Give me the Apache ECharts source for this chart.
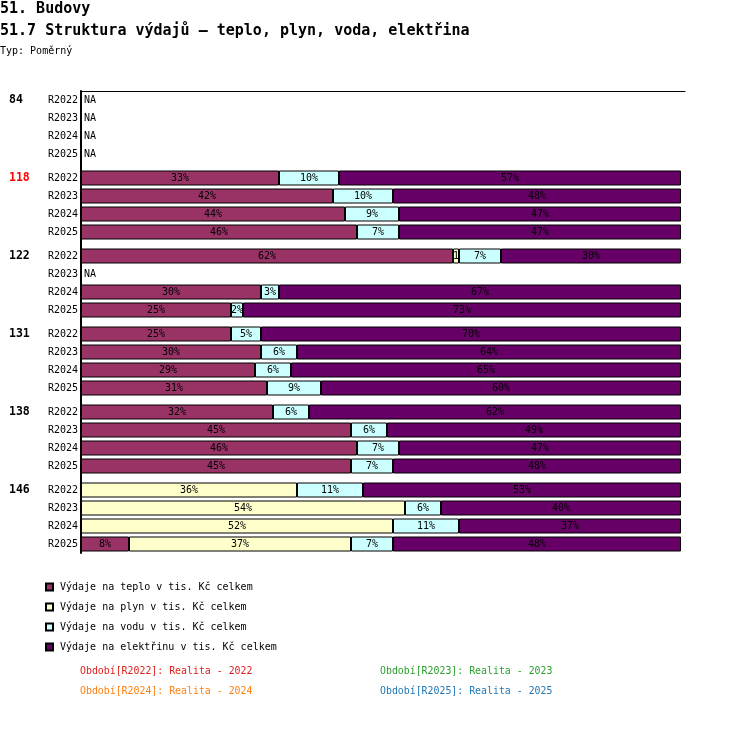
<!DOCTYPE html>
<html>
<head>
<meta charset="utf-8">
<script src="https://cdn.jsdelivr.net/npm/echarts@6/dist/echarts.min.js"></script>
<style>html,body{margin:0;padding:0;background:#fff}#c{width:750px;height:750px}</style>
</head>
<body>
<div id="c"></div>
<script>
const groups = ['84', '118', '122', '131', '138', '146'];
const highlightGroup = '118';
const periods = ['R2022', 'R2023', 'R2024', 'R2025'];
const seriesNames = ['Výdaje na teplo v tis. Kč celkem', 'Výdaje na plyn v tis. Kč celkem', 'Výdaje na vodu v tis. Kč celkem', 'Výdaje na elektřinu v tis. Kč celkem'];
// rows: group-major, period-minor (null = no value)
const teplo =     [null,null,null,null, 33,42,44,46, 62,null,30,25, 25,30,29,31, 32,45,46,45, null,null,null,8];
const plyn =      [null,null,null,null, null,null,null,null, 1,null,null,null, null,null,null,null, null,null,null,null, 36,54,52,37];
const voda =      [null,null,null,null, 10,10,9,7, 7,null,3,2, 5,6,6,9, 6,6,7,7, 11,6,11,7];
const elektrina = [null,null,null,null, 57,48,47,47, 30,null,67,73, 70,64,65,60, 62,49,47,48, 53,40,37,48];
const periodLegend = ['Období[R2022]: Realita - 2022', 'Období[R2023]: Realita - 2023', 'Období[R2024]: Realita - 2024', 'Období[R2025]: Realita - 2025'];

const colors = ['#993366', '#FFFFCC', '#CCFFFF', '#660066'];
const periodColors = ['#e0201c', '#2ca02c', '#ff7f0e', '#1f77b4'];
const MONO = '"DejaVu Sans Mono", monospace';

// slot layout: each group = 13 slots of 6px, rows every 3 slots
const SLOTS_PER_GROUP = 13, ROW_SLOTS = 3, OFFSET = 1, TOTAL = 77;
const rowSlot = (g, i) => g * SLOTS_PER_GROUP + i * ROW_SLOTS + OFFSET;
const periodCats = new Array(TOTAL).fill('');
const groupCats = new Array(TOTAL).fill('');
groups.forEach((gname, g) => periods.forEach((p, i) => {
  const k = rowSlot(g, i);
  periodCats[k] = p + '|' + k;
  if (i === 0) groupCats[k] = gname;
}));
for (let k = 0; k < TOTAL; k++) if (periodCats[k] === '') periodCats[k] = '_' + k;

function slotData(arr) {
  const out = new Array(TOTAL).fill(null);
  groups.forEach((gname, g) => periods.forEach((p, i) => {
    out[rowSlot(g, i)] = arr[g * periods.length + i];
  }));
  return out;
}
const naRow = teplo.map((v, idx) => (v == null && plyn[idx] == null && voda[idx] == null && elektrina[idx] == null) ? 0 : null);

const valueArrays = [teplo, plyn, voda, elektrina];
const series = valueArrays.map((arr, s) => ({
  name: seriesNames[s],
  type: 'bar',
  stack: 'total',
  barWidth: 15,
  data: slotData(arr),
  itemStyle: { color: colors[s], borderColor: '#000', borderWidth: 1 },
  label: {
    show: true, position: 'inside', color: '#000',
    fontFamily: MONO, fontSize: 10,
    formatter: p => p.value == null ? '' : (p.value < 2 ? String(p.value) : p.value + '%')
  },
  emphasis: { disabled: true },
  silent: true
}));
series.unshift({
  name: 'NA', type: 'bar', stack: 'total', barWidth: 15,
  data: slotData(naRow),
  itemStyle: { color: 'transparent' },
  label: { show: true, position: 'right', distance: 3, color: '#000', fontFamily: MONO, fontSize: 10,
           formatter: p => p.value == null ? '' : 'NA' },
  silent: true
});

const graphics = periodLegend.map((t, i) => ({
  type: 'text',
  left: i % 2 === 0 ? 80 : 380,
  top: 666 + Math.floor(i / 2) * 20,
  style: { text: t, fill: periodColors[i], font: '9.9px ' + MONO }
}));

const chart = echarts.init(document.getElementById('c'));
chart.setOption({
  animation: false,
  backgroundColor: '#fff',
  title: [
    { text: '51. Budovy', left: 0, top: 2, padding: 0, textStyle: { fontFamily: MONO, fontSize: 15, fontWeight: 'bold', color: '#000' } },
    { text: '51.7 Struktura výdajů – teplo, plyn, voda, elektřina', left: 0, top: 24, padding: 0, textStyle: { fontFamily: MONO, fontSize: 15, fontWeight: 'bold', color: '#000' } },
    { text: 'Typ: Poměrný', left: 0, top: 46, padding: 0, textStyle: { fontFamily: MONO, fontSize: 10, fontWeight: 'normal', color: '#000' } }
  ],
  legend: {
    data: seriesNames,
    orient: 'vertical', left: 40, top: 576,
    icon: 'rect', itemWidth: 7, itemHeight: 7, itemGap: 8,
    textStyle: { fontFamily: MONO, fontSize: 10, color: '#000', lineHeight: 12, padding: [0, 0, 0, 2] },
    selectedMode: false
  },
  grid: { left: 81, right: 65, top: 91, height: TOTAL * 6, containLabel: false },
  xAxis: {
    type: 'value', position: 'top', min: 0, max: 100 * 604 / 600,
    axisLine: { show: true, lineStyle: { color: '#000', width: 1 } },
    axisTick: { show: false }, axisLabel: { show: false }, splitLine: { show: false }
  },
  yAxis: [
    {
      type: 'category', inverse: true, data: periodCats,
      axisLine: { show: true, lineStyle: { color: '#000', width: 2 } },
      axisTick: { show: false },
      axisLabel: { interval: 0, margin: 3, fontFamily: MONO, fontSize: 10, color: '#000',
                   formatter: v => v.indexOf('|') > 0 ? v.split('|')[0] : '' }
    },
    {
      type: 'category', inverse: true, data: groupCats.map((g, k) => g === '' ? '#' + k : g), position: 'left',
      axisLine: { show: false }, axisTick: { show: false },
      axisLabel: { interval: 0, margin: 72, align: 'left', fontFamily: MONO, fontSize: 11.5, fontWeight: 'bold', color: '#000',
                   formatter: v => v.charAt(0) === '#' ? '' : (v === highlightGroup ? '{r|' + v + '}' : v),
                   rich: { r: { color: '#ff0000', fontFamily: MONO, fontSize: 11.5, fontWeight: 'bold' } } }
    }
  ],
  graphic: graphics,
  series: series
});
</script>
</body>
</html>
